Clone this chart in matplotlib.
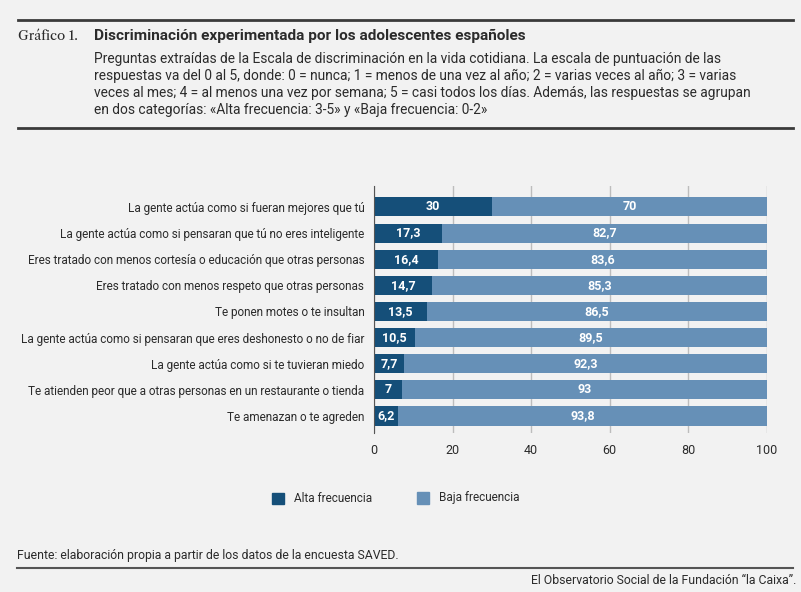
import numpy as np
from matplotlib import pyplot as plt

# data
categorias = [
    "La gente actúa como si fueran mejores que tú",
    "La gente actúa como si pensaran que tú no eres inteligente",
    "Eres tratado con menos cortesía o educación que otras personas",
    "Eres tratado con menos respeto que otras personas",
    "Te ponen motes o te insultan",
    "La gente actúa como si pensaran que eres deshonesto o no de fiar",
    "La gente actúa como si te tuvieran miedo",
    "Te atienden peor que a otras personas en un restaurante o tienda",
    "Te amenazan o te agreden",
]
alta = [30, 17.3, 16.4, 14.7, 13.5, 10.5, 7.7, 7, 6.2]
baja = [70, 82.7, 83.6, 85.3, 86.5, 89.5, 92.3, 93, 93.8]
ticks_x = [0, 20, 40, 60, 80, 100]

SANS = ['Roboto', 'DejaVu Sans']
plt.rcParams['font.family'] = SANS
BG = "#f2f2f2"
DARK = "#154f79"
LIGHT = "#6690b7"
TXT = "#2b2b2b"

def fmt(v):
    return ("%g" % v).replace(".", ",")

fig = plt.figure(figsize=(8.01, 5.92), dpi=100, facecolor=BG)
W, H = 801, 592

def fx(px):
    return px / W

def fy(py):
    return 1 - py / H

# header
fig.add_artist(plt.Line2D([fx(18), fx(793)], [fy(20), fy(20)], color="#3a3a3a", lw=2))
fig.add_artist(plt.Line2D([fx(18), fx(793)], [fy(128), fy(128)], color="#3a3a3a", lw=2))
fig.text(fx(18), fy(36), "Gráfico 1.", family=['Libre Caslon Text', 'DejaVu Serif'],
         fontsize=9.5, color=TXT, va="center")
fig.text(fx(94), fy(36), "Discriminación experimentada por los adolescentes españoles",
         fontsize=11.1, fontweight="bold", color=TXT, va="center")
subtitulo = [
    "Preguntas extraídas de la Escala de discriminación en la vida cotidiana. La escala de puntuación de las",
    "respuestas va del 0 al 5, donde: 0 = nunca; 1 = menos de una vez al año; 2 = varias veces al año; 3 = varias",
    "veces al mes; 4 = al menos una vez por semana; 5 = casi todos los días. Además, las respuestas se agrupan",
    "en dos categorías: «Alta frecuencia: 3-5» y «Baja frecuencia: 0-2»",
]
for i, linea in enumerate(subtitulo):
    fig.text(fx(94), fy(59 + i * 17), linea, fontsize=9.95, color=TXT, va="center")

# chart
ax = fig.add_axes([fx(374), fy(433), fx(767) - fx(374), (433 - 186) / H])
ax.set_facecolor(BG)
y = np.arange(len(categorias))
ax.barh(y, alta, height=0.73, color=DARK, zorder=3)
ax.barh(y, baja, left=alta, height=0.73, color=LIGHT, zorder=3)
for i in range(len(categorias)):
    ax.text(alta[i] / 2, y[i], fmt(alta[i]), ha="center", va="center",
            color="white", fontweight="bold", fontsize=9, zorder=4)
    ax.text(alta[i] + baja[i] / 2, y[i], fmt(baja[i]), ha="center", va="center",
            color="white", fontweight="bold", fontsize=9, zorder=4)
ax.set_xlim(0, 100)
ax.set_ylim(8.65, -0.8)
ax.set_yticks(y)
ax.set_yticklabels(categorias, fontsize=8.5, color=TXT)
ax.set_xticks(ticks_x)
ax.set_xticklabels([str(t) for t in ticks_x], fontsize=9, color=TXT)
ax.tick_params(axis="y", length=0, pad=7)
ax.tick_params(axis="x", length=0, pad=8)
ax.grid(axis="x", color="#bdbdbd", lw=1, zorder=1)
for s in ["top", "right", "bottom"]:
    ax.spines[s].set_visible(False)
ax.spines["left"].set_color("#555555")
ax.spines["left"].set_zorder(5)

# legend
fig.patches.append(plt.Rectangle((fx(272), fy(504)), fx(12), 11 / H, color=DARK,
                                 transform=fig.transFigure, figure=fig))
fig.text(fx(294), fy(498), "Alta frecuencia", fontsize=8.5, color=TXT, va="center")
fig.patches.append(plt.Rectangle((fx(417), fy(504)), fx(12), 12 / H, color=LIGHT,
                                 transform=fig.transFigure, figure=fig))
fig.text(fx(439), fy(497), "Baja frecuencia", fontsize=8.5, color=TXT, va="center")

# footer
fig.text(fx(17), fy(555), "Fuente: elaboración propia a partir de los datos de la encuesta SAVED.",
         fontsize=8.8, color=TXT, va="center")
fig.add_artist(plt.Line2D([fx(17), fx(793)], [fy(568), fy(568)], color="#555555", lw=1.5))
fig.text(fx(796), fy(580), "El Observatorio Social de la Fundación “la Caixa”.",
         fontsize=8.8, color=TXT, va="center", ha="right")

fig.savefig("out.png", dpi=100, facecolor=BG)
